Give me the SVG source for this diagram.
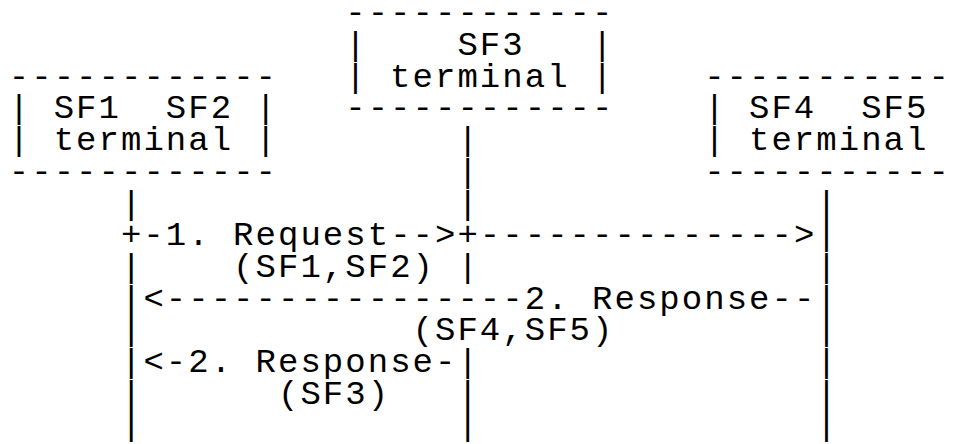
<svg xmlns="http://www.w3.org/2000/svg" width="956" height="444" viewBox="0 0 956 444">
  <style>
    text { font-family: "Liberation Mono", "Courier New", monospace; font-size: 34px; letter-spacing: 2.03px; fill: #000; white-space: pre; }
  </style>
  <rect x="0" y="0" width="956" height="444" fill="#fff"/>
  <g id="sf1-sf2-terminal">
    <text x="8.8" y="86.7" xml:space="preserve">------------</text>
    <text x="8.8" y="118.4" xml:space="preserve">| SF1  SF2 |</text>
    <text x="8.8" y="150.1" xml:space="preserve">| terminal |</text>
    <text x="8.8" y="181.8" xml:space="preserve">------------</text>
  </g>
  <g id="sf3-terminal">
    <text x="345.25" y="23.3" xml:space="preserve">------------</text>
    <text x="345.25" y="55" xml:space="preserve">|    SF3   |</text>
    <text x="345.25" y="86.7" xml:space="preserve">| terminal |</text>
    <text x="345.25" y="118.4" xml:space="preserve">------------</text>
  </g>
  <g id="sf4-sf5-terminal">
    <text x="704.13" y="86.7" xml:space="preserve">------------</text>
    <text x="704.13" y="118.4" xml:space="preserve">| SF4  SF5 |</text>
    <text x="704.13" y="150.1" xml:space="preserve">| terminal |</text>
    <text x="704.13" y="181.8" xml:space="preserve">------------</text>
  </g>
  <g id="connectors">
    <text x="120.95" y="213.5">|</text>
    <text x="120.95" y="276.9">|</text>
    <text x="120.95" y="308.6">|</text>
    <text x="120.95" y="340.3">|</text>
    <text x="120.95" y="372">|</text>
    <text x="120.95" y="403.7">|</text>
    <text x="120.95" y="435.4">|</text>
    <text x="457.4" y="150.1">|</text>
    <text x="457.4" y="181.8">|</text>
    <text x="457.4" y="213.5">|</text>
    <text x="457.4" y="276.9">|</text>
    <text x="457.4" y="372">|</text>
    <text x="457.4" y="403.7">|</text>
    <text x="457.4" y="435.4">|</text>
    <text x="816.28" y="213.5">|</text>
    <text x="816.28" y="245.2">|</text>
    <text x="816.28" y="276.9">|</text>
    <text x="816.28" y="308.6">|</text>
    <text x="816.28" y="340.3">|</text>
    <text x="816.28" y="372">|</text>
    <text x="816.28" y="403.7">|</text>
    <text x="816.28" y="435.4">|</text>
    <text x="120.95" y="245.2" xml:space="preserve">+-1. Request--&gt;+--------------&gt;</text>
    <text x="233.1" y="276.9" xml:space="preserve">(SF1,SF2)</text>
    <text x="143.38" y="308.6" xml:space="preserve">&lt;----------------2. Response--</text>
    <text x="412.54" y="340.3" xml:space="preserve">(SF4,SF5)</text>
    <text x="143.38" y="372" xml:space="preserve">&lt;-2. Response-</text>
    <text x="277.96" y="403.7" xml:space="preserve">(SF3)</text>
  </g>
</svg>
